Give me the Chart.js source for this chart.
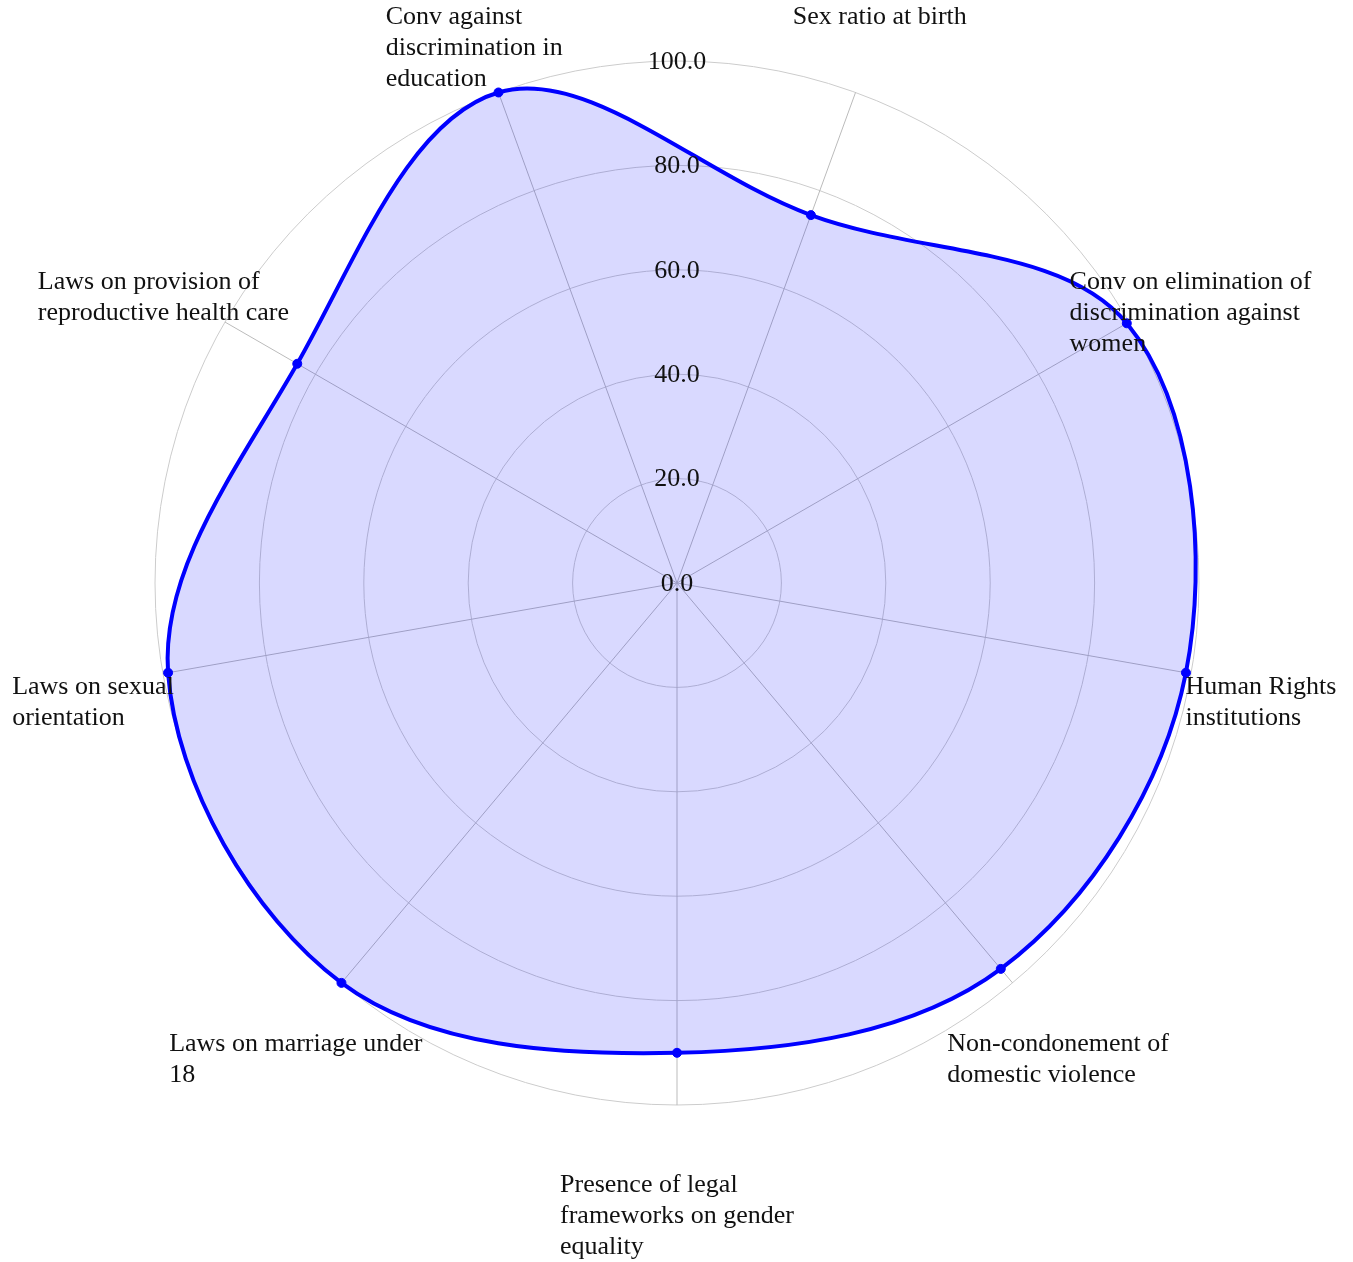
<!DOCTYPE html>
<html>
<head>
<meta charset="utf-8">
<title>Radar</title>
<script src="https://cdn.jsdelivr.net/npm/chart.js@4.4.1/dist/chart.umd.min.js"></script>
<style>
  html, body { margin: 0; padding: 0; background: #ffffff; }
  #wrap { width: 1353px; height: 1262px; position: relative; }
</style>
</head>
<body>
<div id="wrap"><canvas id="canvas"></canvas></div>
<script>
"use strict";

// clockwise, first one sits at 20deg from the top
const chart_labels = [
  ["Sex ratio at birth"],
  ["Conv on elimination of", "discrimination against", "women"],
  ["Human Rights", "institutions"],
  ["Non-condonement of", "domestic violence"],
  ["Presence of legal", "frameworks on gender", "equality"],
  ["Laws on marriage under", "18"],
  ["Laws on sexual", "orientation"],
  ["Laws on provision of", "reproductive health care"],
  ["Conv against", "discrimination in", "education"],
];
const chart_values = [75, 99.5, 99, 96.5, 90, 100, 99, 84, 100];
const tick_values = [0, 20, 40, 60, 80, 100];

const FONT = "'Liberation Serif', 'Times New Roman', serif";
const FONT_SIZE = 26;
const LINE_H = 31;
// label anchor distance, as a share of the outer ring (x and y read separately)
const LABEL_FX = 1.136;
const LABEL_FY = 1.153;

const canvas = document.getElementById("canvas");
const ctx = canvas.getContext("2d");

// tick labels on the vertical line + wrapped point labels, left aligned
const radarText = {
  id: "radarText",
  afterDatasetsDraw(chart) {
    const scale = chart.scales.r;
    const c = chart.ctx;
    c.save();
    c.font = FONT_SIZE + "px " + FONT;
    c.fillStyle = "#111111";
    c.textBaseline = "middle";

    c.textAlign = "center";
    tick_values.forEach((v) => {
      const d = scale.getDistanceFromCenterForValue(v);
      c.fillText(v.toFixed(1), scale.xCenter, scale.yCenter - d + 1);
    });

    c.textAlign = "left";
    chart.data.labels.forEach((lines, i) => {
      const px = scale.getPointPosition(i, scale.drawingArea * LABEL_FX).x;
      const py = scale.getPointPosition(i, scale.drawingArea * LABEL_FY).y;
      let w = 0;
      lines.forEach((l) => {
        w = Math.max(w, c.measureText(l).width);
      });
      const left = px - w / 2;
      lines.forEach((l, k) => {
        c.fillText(l, left, py + k * LINE_H);
      });
    });
    c.restore();
  },
};

const data = {
  labels: chart_labels,
  datasets: [
    {
      label: "",
      data: chart_values,
      fill: true,
      borderColor: "#0000ff",
      backgroundColor: "rgba(0, 0, 255, 0.15)",
      borderWidth: 4,
      tension: 0.35,
      pointRadius: 4.5,
      pointBorderWidth: 1,
      pointBorderColor: "#0000ff",
      pointBackgroundColor: "#0000ff",
    },
  ],
};

const config = {
  type: "radar",
  data: data,
  plugins: [radarText],
  options: {
    responsive: true,
    maintainAspectRatio: false,
    animation: false,
    layout: {
      padding: { left: 155, right: 154, top: 61, bottom: 157 },
    },
    elements: {
      line: { capBezierPoints: false },
    },
    plugins: {
      legend: { display: false },
      tooltip: { enabled: false },
    },
    scales: {
      r: {
        min: tick_values[0],
        max: tick_values[tick_values.length - 1],
        startAngle: 20,
        ticks: {
          display: false,
          stepSize: tick_values[1] - tick_values[0],
        },
        grid: {
          circular: true,
          color: "#cccccc",
          lineWidth: 1,
        },
        angleLines: {
          color: "#bbbbbb",
          lineWidth: 1,
        },
        pointLabels: {
          display: false,
        },
      },
    },
  },
};

const radarChart = new Chart(ctx, config);
</script>
</body>
</html>
